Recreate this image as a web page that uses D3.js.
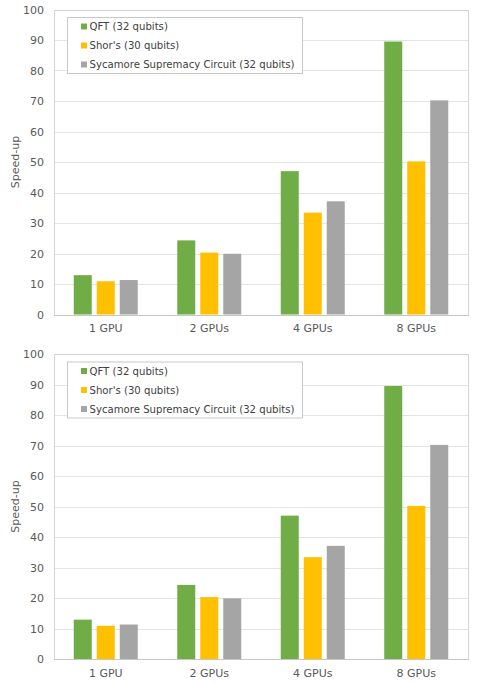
<!DOCTYPE html>
<html>
<head>
<meta charset="utf-8">
<script src="https://cdn.jsdelivr.net/npm/d3@7"></script>
<style>
  html, body { margin: 0; padding: 0; background: #fff; }
  svg { display: block; }
  text { font-family: "DejaVu Sans", Verdana, sans-serif; }
</style>
</head>
<body>
<svg id="chart" width="477" height="683"></svg>
<script>
const categories = ["1 GPU", "2 GPUs", "4 GPUs", "8 GPUs"];
const seriesNames = ["QFT (32 qubits)", "Shor's (30 qubits)", "Sycamore Supremacy Circuit (32 qubits)"];
const qft = [12.9, 24.3, 47.0, 89.5];
const shor = [10.9, 20.3, 33.4, 50.2];
const sycamore = [11.3, 19.9, 37.1, 70.2];
const yTicks = [0, 10, 20, 30, 40, 50, 60, 70, 80, 90, 100];
const colors = ["#70ad47", "#ffc000", "#a5a5a5"];
const seriesValues = [qft, shor, sycamore];

const svg = d3.select("#chart");

function drawPanel(top) {
  const left = 54, right = 468, plotTop = top, plotBottom = top + 305;
  const g = svg.append("g");

  const x0 = d3.scaleBand().domain(categories).range([left, right]).padding(0);
  const x1 = d3.scaleBand().domain(d3.range(seriesNames.length)).range([-32, 32]).paddingInner(5 / 23).paddingOuter(0);
  const y = d3.scaleLinear().domain([0, 100]).range([plotBottom, plotTop]);

  // gridlines
  g.append("g").selectAll("line").data(yTicks.filter(t => t > 0 && t < 100)).join("line")
    .attr("x1", left).attr("x2", right)
    .attr("y1", d => Math.round(y(d)) + 0.5).attr("y2", d => Math.round(y(d)) + 0.5)
    .attr("stroke", "#e4e4e4").attr("stroke-width", 1);

  // frame
  g.append("rect")
    .attr("x", left + 0.5).attr("y", Math.round(plotTop) + 0.5)
    .attr("width", right - left).attr("height", Math.round(plotBottom) - Math.round(plotTop))
    .attr("fill", "none").attr("stroke", "#d4d4d4");

  // bars
  const groups = g.append("g").selectAll("g").data(categories).join("g")
    .attr("transform", d => `translate(${x0(d) + x0.bandwidth() / 2},0)`);
  groups.selectAll("rect").data((d, i) => seriesValues.map((s, k) => ({ k, v: s[i] }))).join("rect")
    .attr("x", d => x1(d.k))
    .attr("width", x1.bandwidth())
    .attr("y", d => y(d.v))
    .attr("height", d => y(0) - y(d.v))
    .attr("fill", d => colors[d.k]);

  // bottom axis line
  g.append("line").attr("x1", left).attr("x2", right + 1)
    .attr("y1", Math.round(plotBottom) + 0.5).attr("y2", Math.round(plotBottom) + 0.5)
    .attr("stroke", "#c6c6c6");

  // y axis
  const yAxis = d3.axisLeft(y).tickValues(yTicks).tickSize(0).tickPadding(0);
  const ya = g.append("g").attr("transform", `translate(44,0)`).call(yAxis);
  ya.select(".domain").remove();
  ya.selectAll("text").attr("fill", "#595959").style("font-size", "11px")
    .style("font-family", "'DejaVu Sans', Verdana, sans-serif");

  // x axis
  const xAxis = d3.axisBottom(x0).tickSize(0).tickPadding(0);
  const xa = g.append("g").attr("transform", `translate(0,${plotBottom + 10})`).call(xAxis);
  xa.select(".domain").remove();
  xa.selectAll("text").attr("fill", "#595959").style("font-size", "11px")
    .style("font-family", "'DejaVu Sans', Verdana, sans-serif");

  // y title
  g.append("text")
    .attr("transform", `translate(19,${(plotTop + plotBottom) / 2}) rotate(-90)`)
    .attr("text-anchor", "middle")
    .attr("fill", "#595959").style("font-size", "11px")
    .text("Speed-up");

  // legend
  const lg = g.append("g");
  lg.append("rect").attr("x", 67.5).attr("y", top + 8).attr("width", 235).attr("height", 56)
    .attr("fill", "#fff").attr("stroke", "#c8c8c8");
  seriesNames.forEach((name, k) => {
    const cy = top + 17 + k * 19;
    lg.append("rect").attr("x", 81).attr("y", cy - 3).attr("width", 6).attr("height", 6).attr("fill", colors[k]);
    lg.append("text").attr("x", 89.5).attr("y", cy).attr("dy", "0.35em")
      .attr("fill", "#404040").style("font-size", "10.15px").text(name);
  });
}

drawPanel(9.5);
drawPanel(354);
</script>
</body>
</html>
